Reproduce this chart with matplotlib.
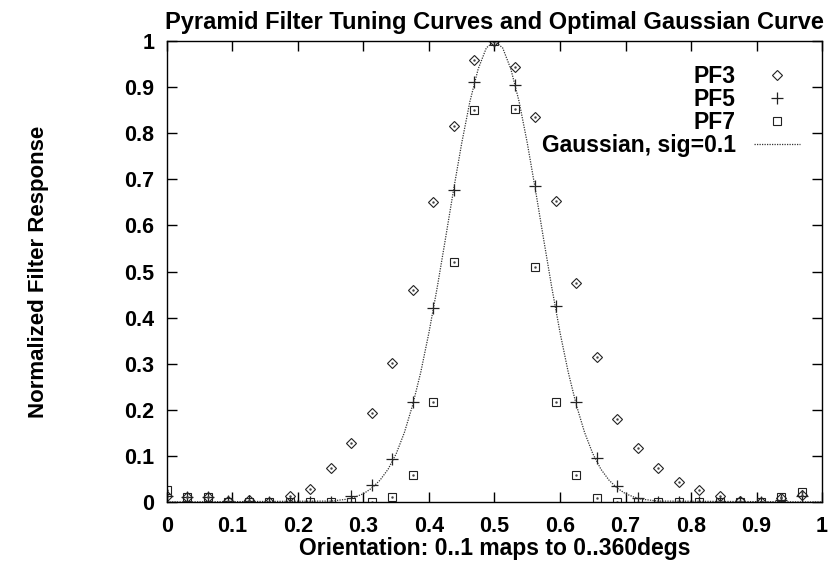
import numpy as np
import matplotlib
matplotlib.use('Agg')
import matplotlib.pyplot as plt

# Sample positions (k/32) and the three filter responses
orientation = [i / 32 for i in range(32)]

pf3 = [0.012, 0.010, 0.010, 0.003, 0.005, 0.000, 0.014, 0.029,
       0.074, 0.127, 0.193, 0.302, 0.459, 0.650, 0.816, 0.958,
       1.000, 0.943, 0.835, 0.654, 0.474, 0.314, 0.180, 0.117,
       0.073, 0.044, 0.027, 0.012, 0.003, 0.000, 0.008, 0.015]

pf5 = [0.012, 0.010, 0.010, 0.003, 0.002, 0.000, 0.000, 0.000,
       0.000, 0.012, 0.036, 0.094, 0.216, 0.421, 0.677, 0.912,
       1.000, 0.905, 0.686, 0.425, 0.218, 0.095, 0.035, 0.009,
       0.000, 0.000, 0.000, 0.000, 0.000, 0.000, 0.005, 0.012]

pf7 = [0.026, 0.011, 0.011, 0.001, 0.000, 0.000, 0.000, 0.000,
       0.000, 0.000, 0.000, 0.010, 0.059, 0.216, 0.520, 0.851,
       1.000, 0.852, 0.510, 0.218, 0.059, 0.009, 0.000, 0.000,
       0.000, 0.000, 0.000, 0.000, 0.000, 0.000, 0.010, 0.022]

# Gaussian reference curve
gauss_x = [0.0, 0.25, 0.2625, 0.275, 0.2875, 0.3, 0.3125, 0.325, 0.3375, 0.35,
           0.3625, 0.375, 0.3875, 0.4, 0.4125, 0.425, 0.4375, 0.45, 0.4625,
           0.475, 0.4875, 0.5, 0.5125, 0.525, 0.5375, 0.55, 0.5625, 0.575,
           0.5875, 0.6, 0.6125, 0.625, 0.6375, 0.65, 0.6625, 0.675, 0.6875,
           0.7, 0.7125, 0.725, 0.7375, 0.75, 1.0]
gauss_y = [0.0, 0.002, 0.004, 0.006, 0.011, 0.018, 0.030, 0.047, 0.071, 0.105,
           0.151, 0.210, 0.282, 0.368, 0.465, 0.570, 0.677, 0.779, 0.869,
           0.939, 0.985, 1.000, 0.985, 0.939, 0.869, 0.779, 0.677, 0.570,
           0.465, 0.368, 0.282, 0.210, 0.151, 0.105, 0.071, 0.047, 0.030,
           0.018, 0.011, 0.006, 0.004, 0.002, 0.0]

x_ticks = [0, 0.1, 0.2, 0.3, 0.4, 0.5, 0.6, 0.7, 0.8, 0.9, 1]
tick_labels = ['0', '0.1', '0.2', '0.3', '0.4', '0.5', '0.6', '0.7', '0.8', '0.9', '1']

plt.rcParams['font.family'] = ['Liberation Sans', 'DejaVu Sans']
plt.rcParams['font.weight'] = 'bold'

fig = plt.figure(figsize=(8.32, 5.68), dpi=100)
ax = fig.add_axes([0.2007, 0.1162, 0.7873, 0.8116])

ax.plot(orientation, pf3, linestyle='none', marker='D', markersize=5,
        markerfacecolor='none', markeredgecolor='#222222', markeredgewidth=0.8, label='PF3')
ax.plot(orientation, pf5, linestyle='none', marker='+', markersize=8,
        color='#222222', markeredgewidth=0.9, label='PF5')
ax.plot(orientation, pf7, linestyle='none', marker='s', markersize=6,
        markerfacecolor='none', markeredgecolor='#222222', markeredgewidth=0.8, label='PF7')
ax.plot(gauss_x, gauss_y, linestyle=(0, (1, 1)), color='#333333', linewidth=0.9,
        label='Gaussian, sig=0.1')

# small centre dots as in the original plot symbols
for series in [pf3, pf7]:
    ax.plot(orientation, series, linestyle='none', marker='.', markersize=1.5, color='#444444')

ax.set_xlim(0, 1)
ax.set_ylim(0, 1)
ax.set_xticks(x_ticks)
ax.set_xticklabels(tick_labels)
ax.set_yticks(x_ticks)
ax.set_yticklabels(tick_labels)
ax.tick_params(direction='in', length=7, width=1, top=True, right=True,
               labelsize=15.5)
ax.tick_params(axis='x', pad=10)
ax.tick_params(axis='y', pad=9)
for spine in ax.spines.values():
    spine.set_linewidth(1)

ax.set_title('Pyramid Filter Tuning Curves and Optimal Gaussian Curve',
             fontsize=17, fontweight='bold', pad=9)
ax.set_xlabel('Orientation: 0..1 maps to 0..360degs', fontsize=16.5, fontweight='bold', labelpad=0)
ax.set_ylabel('Normalized Filter Response', fontsize=16, fontweight='bold')
ax.yaxis.set_label_coords(-0.18, 0.5)

ax.legend(loc='upper right', bbox_to_anchor=(0.966, 0.948), markerfirst=False,
          frameon=False, fontsize=16.5, labelspacing=0.0, handlelength=2.0,
          handletextpad=0.8, borderpad=0, borderaxespad=0)

plt.savefig('out.png', dpi=100)
